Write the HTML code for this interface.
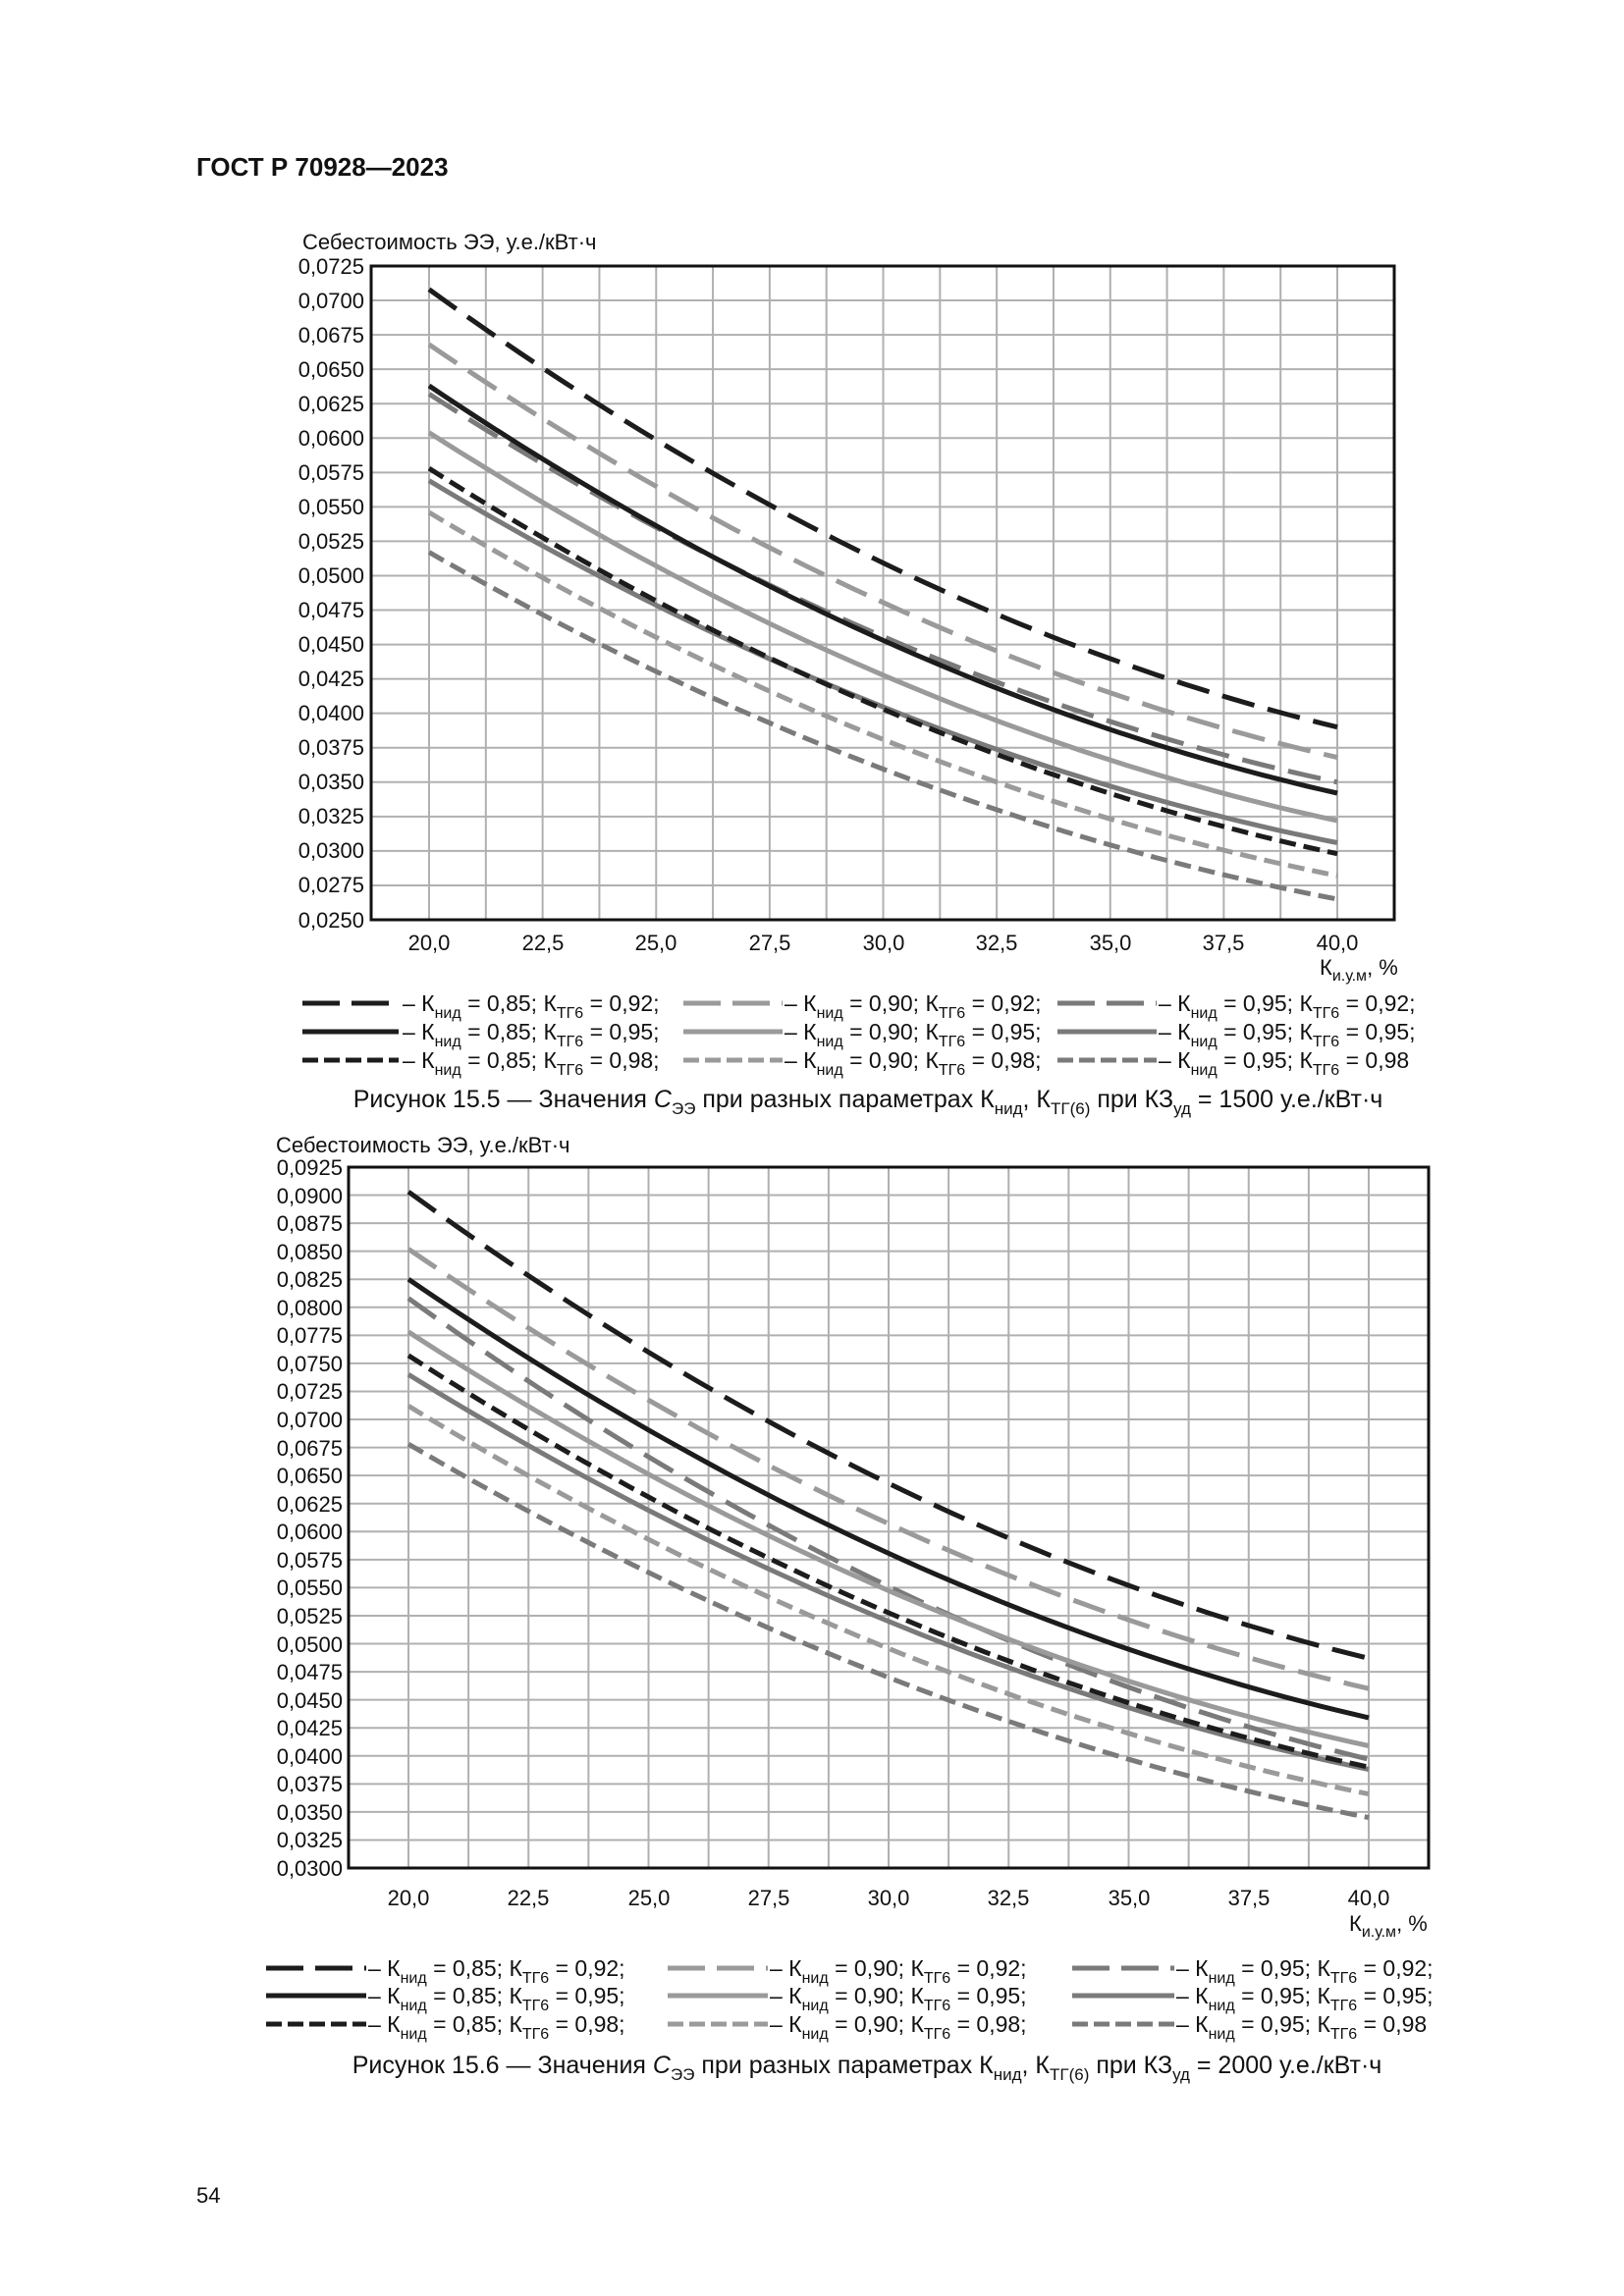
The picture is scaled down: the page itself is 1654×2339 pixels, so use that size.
<!DOCTYPE html>
<html><head><meta charset="utf-8">
<style>
html,body{margin:0;padding:0;background:#fff;}
svg{display:block;font-family:"Liberation Sans","DejaVu Sans",sans-serif;}
</style></head>
<body>
<svg id="s" width="1654" height="2339" viewBox="0 0 1654 2339" xmlns="http://www.w3.org/2000/svg">
<rect width="1654" height="2339" fill="#fff"/>
<text x="200" y="179" font-size="26" font-weight="bold" fill="#111">ГОСТ Р 70928—2023</text>
<text x="200" y="2244" font-size="22" fill="#111">54</text>

<g id="c1"></g>
<g id="c2"></g>

<!-- Chart 1 text -->
<text x="308" y="254" font-size="22" fill="#111">Себестоимость ЭЭ, у.е./кВт·ч</text>
<g font-size="22" fill="#111" text-anchor="end">
<text x="371" y="279">0,0725</text><text x="371" y="314">0,0700</text><text x="371" y="349">0,0675</text>
<text x="371" y="384">0,0650</text><text x="371" y="419">0,0625</text><text x="371" y="454">0,0600</text>
<text x="371" y="489">0,0575</text><text x="371" y="524">0,0550</text><text x="371" y="559">0,0525</text>
<text x="371" y="594">0,0500</text><text x="371" y="629">0,0475</text><text x="371" y="664">0,0450</text>
<text x="371" y="699">0,0425</text><text x="371" y="734">0,0400</text><text x="371" y="769">0,0375</text>
<text x="371" y="804">0,0350</text><text x="371" y="839">0,0325</text><text x="371" y="874">0,0300</text>
<text x="371" y="909">0,0275</text><text x="371" y="945">0,0250</text>
</g>
<g font-size="22" fill="#111" text-anchor="middle">
<text x="437" y="968">20,0</text><text x="553" y="968">22,5</text><text x="668" y="968">25,0</text>
<text x="784" y="968">27,5</text><text x="900" y="968">30,0</text><text x="1015" y="968">32,5</text>
<text x="1131" y="968">35,0</text><text x="1246" y="968">37,5</text><text x="1362" y="968">40,0</text>
</g>
<text x="1344" y="993" font-size="22" fill="#111">К<tspan font-size="16" dy="6">и.у.м</tspan><tspan dy="-6">,  %</tspan></text>

<g id="leg1"></g>
<text x="884" y="1128" font-size="25" fill="#111" text-anchor="middle">Рисунок 15.5 — Значения <tspan font-style="italic">С</tspan><tspan font-size="17" dy="7">ЭЭ</tspan><tspan dy="-7"> при разных параметрах К</tspan><tspan font-size="17" dy="7">нид</tspan><tspan dy="-7">, К</tspan><tspan font-size="17" dy="7">ТГ(6)</tspan><tspan dy="-7"> при КЗ</tspan><tspan font-size="17" dy="7">уд</tspan><tspan dy="-7"> = 1500 у.е./кВт·ч</tspan></text>

<!-- Chart 2 text -->
<text x="281" y="1174" font-size="22" fill="#111">Себестоимость ЭЭ, у.е./кВт·ч</text>
<g font-size="22" fill="#111" text-anchor="end">
<text x="349" y="1197">0,0925</text><text x="349" y="1226">0,0900</text><text x="349" y="1254">0,0875</text>
<text x="349" y="1283">0,0850</text><text x="349" y="1311">0,0825</text><text x="349" y="1340">0,0800</text>
<text x="349" y="1368">0,0775</text><text x="349" y="1397">0,0750</text><text x="349" y="1425">0,0725</text>
<text x="349" y="1454">0,0700</text><text x="349" y="1483">0,0675</text><text x="349" y="1511">0,0650</text>
<text x="349" y="1540">0,0625</text><text x="349" y="1568">0,0600</text><text x="349" y="1597">0,0575</text>
<text x="349" y="1625">0,0550</text><text x="349" y="1654">0,0525</text><text x="349" y="1683">0,0500</text>
<text x="349" y="1711">0,0475</text><text x="349" y="1740">0,0450</text><text x="349" y="1768">0,0425</text>
<text x="349" y="1797">0,0400</text><text x="349" y="1825">0,0375</text><text x="349" y="1854">0,0350</text>
<text x="349" y="1882">0,0325</text><text x="349" y="1911">0,0300</text>
</g>
<g font-size="22" fill="#111" text-anchor="middle">
<text x="416" y="1941">20,0</text><text x="538" y="1941">22,5</text><text x="661" y="1941">25,0</text>
<text x="783" y="1941">27,5</text><text x="905" y="1941">30,0</text><text x="1027" y="1941">32,5</text>
<text x="1150" y="1941">35,0</text><text x="1272" y="1941">37,5</text><text x="1394" y="1941">40,0</text>
</g>
<text x="1374" y="1967" font-size="22" fill="#111">К<tspan font-size="16" dy="6">и.у.м</tspan><tspan dy="-6">,  %</tspan></text>

<g id="leg2"></g>
<text x="883" y="2112" font-size="25" fill="#111" text-anchor="middle">Рисунок 15.6 — Значения <tspan font-style="italic">С</tspan><tspan font-size="17" dy="7">ЭЭ</tspan><tspan dy="-7"> при разных параметрах К</tspan><tspan font-size="17" dy="7">нид</tspan><tspan dy="-7">, К</tspan><tspan font-size="17" dy="7">ТГ(6)</tspan><tspan dy="-7"> при КЗ</tspan><tspan font-size="17" dy="7">уд</tspan><tspan dy="-7"> = 2000 у.е./кВт·ч</tspan></text>

<!-- legend labels -->
<g font-size="23" fill="#111">
<text x="410" y="1030">– К<tspan font-size="16" dy="7">нид</tspan><tspan dy="-7"> = 0,85; К</tspan><tspan font-size="16" dy="7">ТГ6</tspan><tspan dy="-7"> = 0,92;</tspan></text>
<text x="410" y="1059">– К<tspan font-size="16" dy="7">нид</tspan><tspan dy="-7"> = 0,85; К</tspan><tspan font-size="16" dy="7">ТГ6</tspan><tspan dy="-7"> = 0,95;</tspan></text>
<text x="410" y="1088">– К<tspan font-size="16" dy="7">нид</tspan><tspan dy="-7"> = 0,85; К</tspan><tspan font-size="16" dy="7">ТГ6</tspan><tspan dy="-7"> = 0,98;</tspan></text>
<text x="799" y="1030">– К<tspan font-size="16" dy="7">нид</tspan><tspan dy="-7"> = 0,90; К</tspan><tspan font-size="16" dy="7">ТГ6</tspan><tspan dy="-7"> = 0,92;</tspan></text>
<text x="799" y="1059">– К<tspan font-size="16" dy="7">нид</tspan><tspan dy="-7"> = 0,90; К</tspan><tspan font-size="16" dy="7">ТГ6</tspan><tspan dy="-7"> = 0,95;</tspan></text>
<text x="799" y="1088">– К<tspan font-size="16" dy="7">нид</tspan><tspan dy="-7"> = 0,90; К</tspan><tspan font-size="16" dy="7">ТГ6</tspan><tspan dy="-7"> = 0,98;</tspan></text>
<text x="1180" y="1030">– К<tspan font-size="16" dy="7">нид</tspan><tspan dy="-7"> = 0,95; К</tspan><tspan font-size="16" dy="7">ТГ6</tspan><tspan dy="-7"> = 0,92;</tspan></text>
<text x="1180" y="1059">– К<tspan font-size="16" dy="7">нид</tspan><tspan dy="-7"> = 0,95; К</tspan><tspan font-size="16" dy="7">ТГ6</tspan><tspan dy="-7"> = 0,95;</tspan></text>
<text x="1180" y="1088">– К<tspan font-size="16" dy="7">нид</tspan><tspan dy="-7"> = 0,95; К</tspan><tspan font-size="16" dy="7">ТГ6</tspan><tspan dy="-7"> = 0,98</tspan></text>

<text x="375" y="2013">– К<tspan font-size="16" dy="7">нид</tspan><tspan dy="-7"> = 0,85; К</tspan><tspan font-size="16" dy="7">ТГ6</tspan><tspan dy="-7"> = 0,92;</tspan></text>
<text x="375" y="2041">– К<tspan font-size="16" dy="7">нид</tspan><tspan dy="-7"> = 0,85; К</tspan><tspan font-size="16" dy="7">ТГ6</tspan><tspan dy="-7"> = 0,95;</tspan></text>
<text x="375" y="2070">– К<tspan font-size="16" dy="7">нид</tspan><tspan dy="-7"> = 0,85; К</tspan><tspan font-size="16" dy="7">ТГ6</tspan><tspan dy="-7"> = 0,98;</tspan></text>
<text x="784" y="2013">– К<tspan font-size="16" dy="7">нид</tspan><tspan dy="-7"> = 0,90; К</tspan><tspan font-size="16" dy="7">ТГ6</tspan><tspan dy="-7"> = 0,92;</tspan></text>
<text x="784" y="2041">– К<tspan font-size="16" dy="7">нид</tspan><tspan dy="-7"> = 0,90; К</tspan><tspan font-size="16" dy="7">ТГ6</tspan><tspan dy="-7"> = 0,95;</tspan></text>
<text x="784" y="2070">– К<tspan font-size="16" dy="7">нид</tspan><tspan dy="-7"> = 0,90; К</tspan><tspan font-size="16" dy="7">ТГ6</tspan><tspan dy="-7"> = 0,98;</tspan></text>
<text x="1198" y="2013">– К<tspan font-size="16" dy="7">нид</tspan><tspan dy="-7"> = 0,95; К</tspan><tspan font-size="16" dy="7">ТГ6</tspan><tspan dy="-7"> = 0,92;</tspan></text>
<text x="1198" y="2041">– К<tspan font-size="16" dy="7">нид</tspan><tspan dy="-7"> = 0,95; К</tspan><tspan font-size="16" dy="7">ТГ6</tspan><tspan dy="-7"> = 0,95;</tspan></text>
<text x="1198" y="2070">– К<tspan font-size="16" dy="7">нид</tspan><tspan dy="-7"> = 0,95; К</tspan><tspan font-size="16" dy="7">ТГ6</tspan><tspan dy="-7"> = 0,98</tspan></text>
</g>
</svg>
<script>
var NS="http://www.w3.org/2000/svg";
function el(p,n,a){var e=document.createElementNS(NS,n);for(var k in a)e.setAttribute(k,a[k]);p.appendChild(e);return e;}
var COL=["#1c1c1c","#9a9a9a","#7a7a7a"];
var DASH=["34 14","", "17 8"];
function chart(g,L,R,T,B,x20,x40,ymax,ymin,nrows,series){
  var px=(x40-x20)/20;
  for(var v=18.75+1.25;v<41.25-0.01;v+=1.25){var X=x20+(v-20)*px;el(g,"line",{x1:X,x2:X,y1:T,y2:B,stroke:"#b0b0b0","stroke-width":2});}
  var rh=(B-T)/nrows;
  for(var r=1;r<nrows;r++){var Y=T+r*rh;el(g,"line",{x1:L,x2:R,y1:Y,y2:Y,stroke:"#b0b0b0","stroke-width":2});}
  el(g,"rect",{x:L,y:T,width:R-L,height:B-T,fill:"none",stroke:"#111","stroke-width":3});
  series.forEach(function(s){
    var d="";
    for(var k=0;k<=60;k++){var t=k/60;var f=(1-t)*(1-0.5*t);var v=s.b+(s.a-s.b)*f;
      var X=x20+t*20*px;var Y=T+(ymax-v)/(ymax-ymin)*(B-T);d+=(k?"L":"M")+X.toFixed(1)+" "+Y.toFixed(1);}
    var a={d:d,fill:"none",stroke:COL[s.c],"stroke-width":5};
    if(DASH[s.t])a["stroke-dasharray"]=DASH[s.t];
    el(g,"path",a);
  });
}
var s1=[
 {a:0.0708,b:0.0390,c:0,t:0},{a:0.0668,b:0.0368,c:1,t:0},{a:0.0632,b:0.0350,c:2,t:0},
 {a:0.0604,b:0.0322,c:1,t:1},{a:0.0569,b:0.0306,c:2,t:1},
 {a:0.0578,b:0.0298,c:0,t:2},{a:0.0546,b:0.0282,c:1,t:2},{a:0.0517,b:0.0265,c:2,t:2},
 {a:0.0638,b:0.0342,c:0,t:1}];
var s2=[
 {a:0.0903,b:0.0487,c:0,t:0},{a:0.0852,b:0.0460,c:1,t:0},{a:0.0808,b:0.0397,c:2,t:0},
 {a:0.0778,b:0.0409,c:1,t:1},{a:0.0740,b:0.0388,c:2,t:1},
 {a:0.0757,b:0.0390,c:0,t:2},{a:0.0712,b:0.0366,c:1,t:2},{a:0.0678,b:0.0345,c:2,t:2},
 {a:0.0825,b:0.0434,c:0,t:1}];
chart(document.getElementById("c1"),378,1420,271,937,437,1362,0.0725,0.0250,19,s1);
chart(document.getElementById("c2"),355,1455,1189,1903,416,1394,0.0925,0.0300,25,s2);
function legend(g,cols,rows){
  for(var c=0;c<3;c++)for(var r=0;r<3;r++){
    var a={x1:cols[c][0],x2:cols[c][1],y1:rows[r],y2:rows[r],stroke:COL[c],"stroke-width":5};
    if(DASH[r])a["stroke-dasharray"]=r==0?"38 12":"16 6";
    el(g,"line",a);
  }
}
legend(document.getElementById("leg1"),[[308,406],[696,797],[1077,1178]],[1022,1051,1080]);
legend(document.getElementById("leg2"),[[271,373],[680,782],[1092,1196]],[2005,2033,2062]);
</script>
</body></html>
